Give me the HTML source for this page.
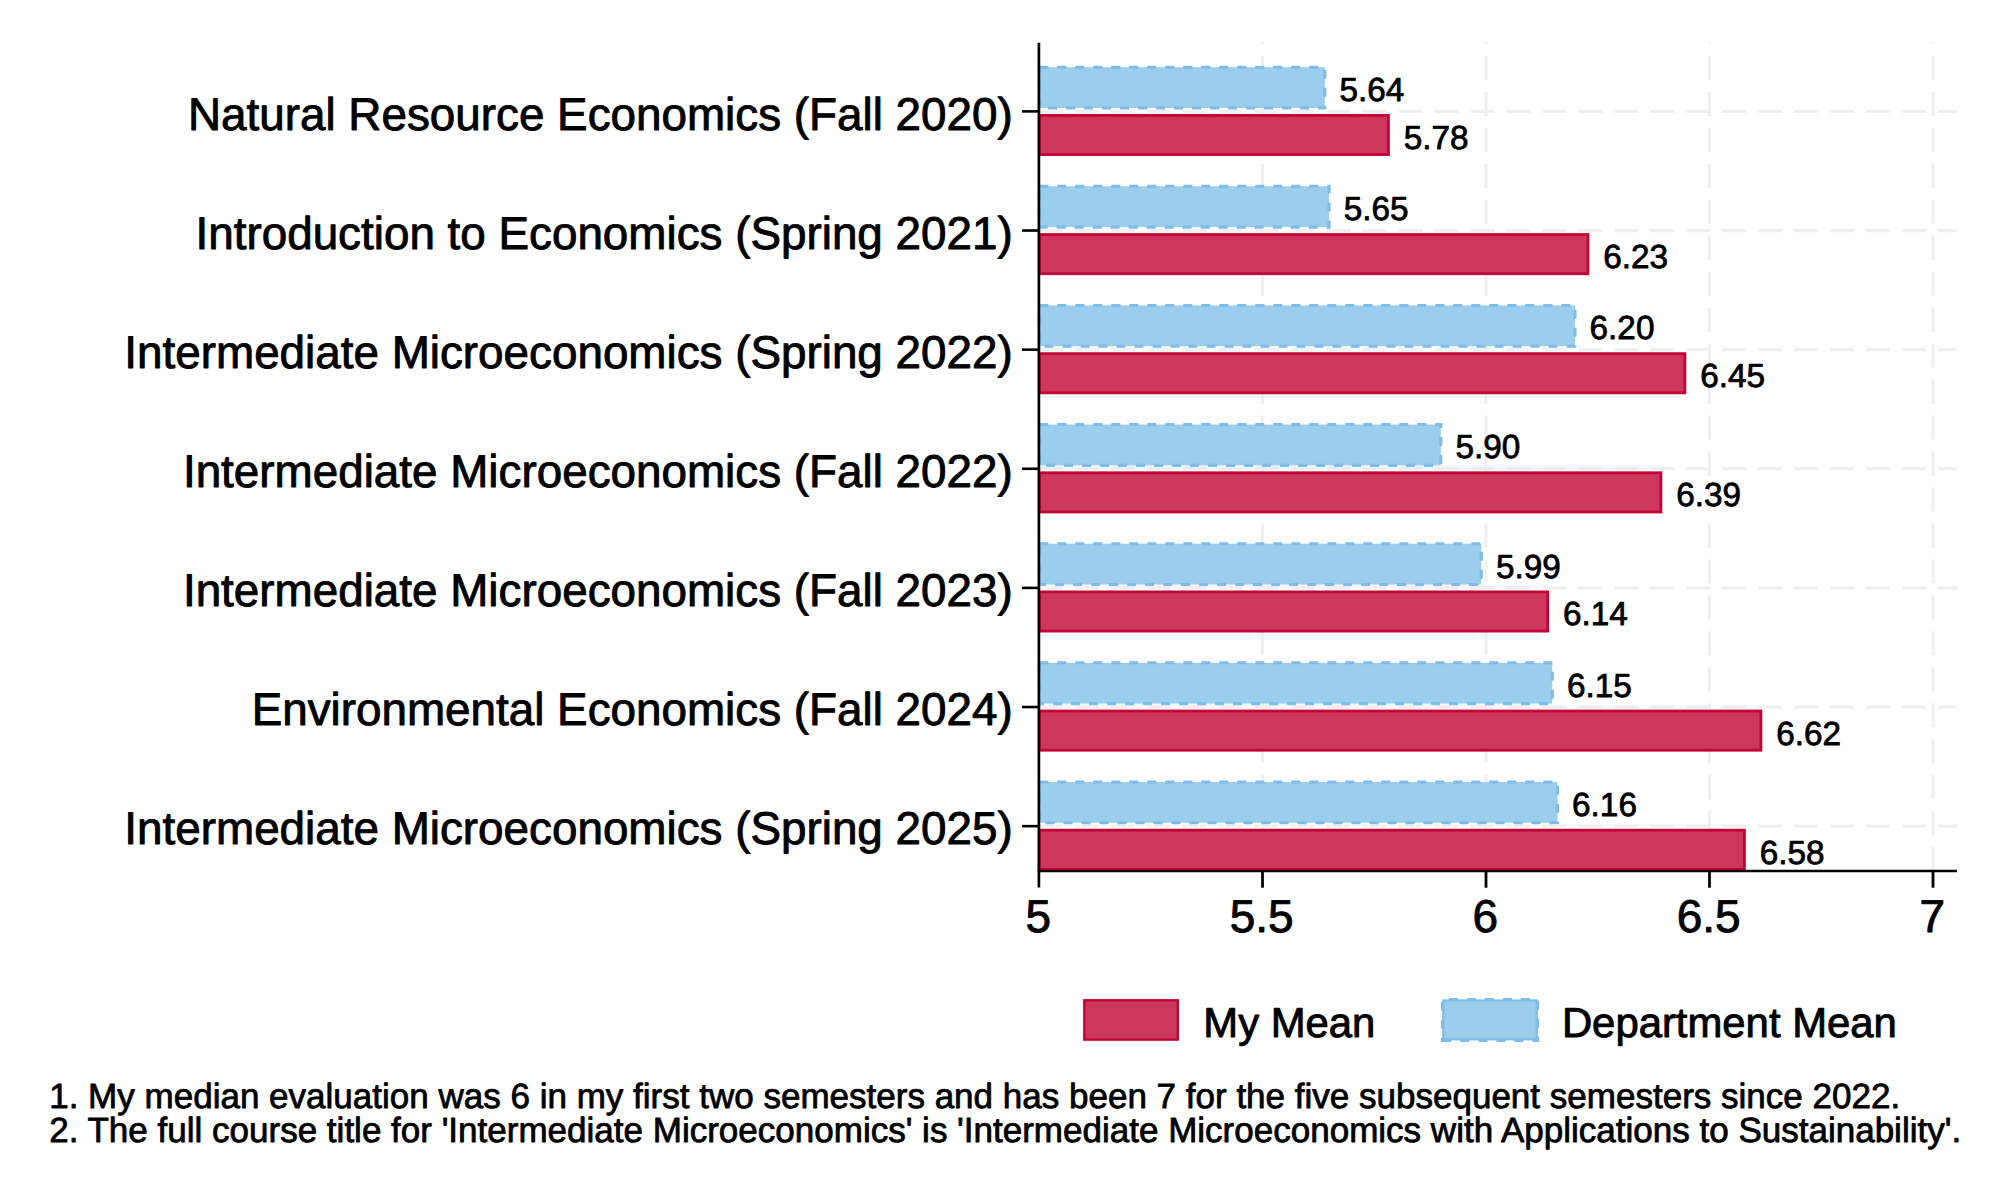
<!DOCTYPE html>
<html lang="en"><head><meta charset="utf-8"><title>Teaching evaluations</title>
<style>
html,body{margin:0;padding:0;background:#fff;}
body{width:2000px;height:1200px;overflow:hidden;}
svg{display:block;}
text{font-family:"Liberation Sans",Arial,Helvetica,sans-serif;fill:#000;stroke:#000;stroke-width:0.9px;stroke-linejoin:round;text-rendering:geometricPrecision;}
.yl{font-size:45.8px;text-anchor:end;}
.xl{font-size:46px;text-anchor:middle;}
.vl{font-size:33.3px;text-anchor:start;stroke-width:0.8px;}
.lg{font-size:41.85px;text-anchor:start;stroke-width:0.9px;}
.nt{font-size:35.03px;text-anchor:start;stroke-width:0.8px;}
</style></head><body>
<svg width="2000" height="1200" viewBox="0 0 2000 1200">
<rect x="0" y="0" width="2000" height="1200" fill="#ffffff"/>

<g stroke="#f0f0f0" stroke-width="3.2" fill="none" stroke-dasharray="23.97 11.986">
<line x1="1262.5" y1="871.00" x2="1262.5" y2="42.50"/>
<line x1="1486.0" y1="871.00" x2="1486.0" y2="42.50"/>
<line x1="1709.5" y1="871.00" x2="1709.5" y2="42.50"/>
<line x1="1933.0" y1="871.00" x2="1933.0" y2="42.50"/>
<line x1="1039.0" y1="111.40" x2="1957.0" y2="111.40"/>
<line x1="1039.0" y1="230.53" x2="1957.0" y2="230.53"/>
<line x1="1039.0" y1="349.65" x2="1957.0" y2="349.65"/>
<line x1="1039.0" y1="468.77" x2="1957.0" y2="468.77"/>
<line x1="1039.0" y1="587.90" x2="1957.0" y2="587.90"/>
<line x1="1039.0" y1="707.02" x2="1957.0" y2="707.02"/>
<line x1="1039.0" y1="826.15" x2="1957.0" y2="826.15"/>
</g>
<g>
<rect x="1039.3" y="67.20" width="285.50" height="40.80" fill="#9bcdec" stroke="#7fbce7" stroke-width="3.1" stroke-dasharray="9 9"/>
<rect x="1039.3" y="115.40" width="349.10" height="39.20" fill="#cd375d" stroke="#c10534" stroke-width="2.8"/>
<rect x="1039.3" y="186.32" width="289.80" height="40.80" fill="#9bcdec" stroke="#7fbce7" stroke-width="3.1" stroke-dasharray="9 9"/>
<rect x="1039.3" y="234.53" width="548.65" height="39.20" fill="#cd375d" stroke="#c10534" stroke-width="2.8"/>
<rect x="1039.3" y="305.45" width="535.70" height="40.80" fill="#9bcdec" stroke="#7fbce7" stroke-width="3.1" stroke-dasharray="9 9"/>
<rect x="1039.3" y="353.65" width="645.60" height="39.20" fill="#cd375d" stroke="#c10534" stroke-width="2.8"/>
<rect x="1039.3" y="424.57" width="401.50" height="40.80" fill="#9bcdec" stroke="#7fbce7" stroke-width="3.1" stroke-dasharray="9 9"/>
<rect x="1039.3" y="472.77" width="621.60" height="39.20" fill="#cd375d" stroke="#c10534" stroke-width="2.8"/>
<rect x="1039.3" y="543.70" width="442.00" height="40.80" fill="#9bcdec" stroke="#7fbce7" stroke-width="3.1" stroke-dasharray="9 9"/>
<rect x="1039.3" y="591.90" width="508.40" height="39.20" fill="#cd375d" stroke="#c10534" stroke-width="2.8"/>
<rect x="1039.3" y="662.82" width="513.00" height="40.80" fill="#9bcdec" stroke="#7fbce7" stroke-width="3.1" stroke-dasharray="9 9"/>
<rect x="1039.3" y="711.02" width="721.60" height="39.20" fill="#cd375d" stroke="#c10534" stroke-width="2.8"/>
<rect x="1039.3" y="781.95" width="518.20" height="40.80" fill="#9bcdec" stroke="#7fbce7" stroke-width="3.1" stroke-dasharray="9 9"/>
<rect x="1039.3" y="830.15" width="705.10" height="39.20" fill="#cd375d" stroke="#c10534" stroke-width="2.8"/>
</g>
<g stroke="#000" fill="none">
<line x1="1038.9" y1="42.80" x2="1038.9" y2="887.60" stroke-width="2.7"/>
<line x1="1037.7" y1="870.95" x2="1957.0" y2="870.95" stroke-width="2.4"/>
<line x1="1022.0" y1="111.40" x2="1039.0" y2="111.40" stroke-width="2.6"/>
<line x1="1022.0" y1="230.53" x2="1039.0" y2="230.53" stroke-width="2.6"/>
<line x1="1022.0" y1="349.65" x2="1039.0" y2="349.65" stroke-width="2.6"/>
<line x1="1022.0" y1="468.77" x2="1039.0" y2="468.77" stroke-width="2.6"/>
<line x1="1022.0" y1="587.90" x2="1039.0" y2="587.90" stroke-width="2.6"/>
<line x1="1022.0" y1="707.02" x2="1039.0" y2="707.02" stroke-width="2.6"/>
<line x1="1022.0" y1="826.15" x2="1039.0" y2="826.15" stroke-width="2.6"/>
<line x1="1262.5" y1="870.95" x2="1262.5" y2="887.70" stroke-width="2.8"/>
<line x1="1486.0" y1="870.95" x2="1486.0" y2="887.70" stroke-width="2.8"/>
<line x1="1709.5" y1="870.95" x2="1709.5" y2="887.70" stroke-width="2.8"/>
<line x1="1933.0" y1="870.95" x2="1933.0" y2="887.70" stroke-width="2.8"/>
</g>
<text class="yl" x="1012.7" y="129.50">Natural Resource Economics (Fall 2020)</text>
<text class="yl" x="1012.7" y="248.62">Introduction to Economics (Spring 2021)</text>
<text class="yl" x="1012.7" y="367.75">Intermediate Microeconomics (Spring 2022)</text>
<text class="yl" x="1012.7" y="486.88">Intermediate Microeconomics (Fall 2022)</text>
<text class="yl" x="1012.7" y="606.00">Intermediate Microeconomics (Fall 2023)</text>
<text class="yl" x="1012.7" y="725.12">Environmental Economics (Fall 2024)</text>
<text class="yl" x="1012.7" y="844.25">Intermediate Microeconomics (Spring 2025)</text>
<text class="xl" x="1038.2" y="931.8">5</text>
<text class="xl" x="1261.7" y="931.8">5.5</text>
<text class="xl" x="1485.2" y="931.8">6</text>
<text class="xl" x="1708.7" y="931.8">6.5</text>
<text class="xl" x="1932.2" y="931.8">7</text>
<text class="vl" x="1339.4" y="101.10">5.64</text>
<text class="vl" x="1403.7" y="148.90">5.78</text>
<text class="vl" x="1343.7" y="220.22">5.65</text>
<text class="vl" x="1603.2" y="268.02">6.23</text>
<text class="vl" x="1589.6" y="339.35">6.20</text>
<text class="vl" x="1700.2" y="387.15">6.45</text>
<text class="vl" x="1455.4" y="458.47">5.90</text>
<text class="vl" x="1676.2" y="506.27">6.39</text>
<text class="vl" x="1495.9" y="577.60">5.99</text>
<text class="vl" x="1563.0" y="625.40">6.14</text>
<text class="vl" x="1566.9" y="696.73">6.15</text>
<text class="vl" x="1776.2" y="744.52">6.62</text>
<text class="vl" x="1572.1" y="815.85">6.16</text>
<text class="vl" x="1759.7" y="863.65">6.58</text>
<rect x="1084.3" y="1000.3" width="93.5" height="39.3" fill="#cd375d" stroke="#c10534" stroke-width="2.4"/>
<text class="lg" x="1203.3" y="1037">My Mean</text>
<rect x="1443.3" y="1000.5" width="93.5" height="38.8" fill="#9bcdec" stroke="#7fbce7" stroke-width="2.2"/>
<path d="M1442.4 1040.4H1537.7V999.4H1442.4Z" fill="none" stroke="#7fbce7" stroke-width="3" stroke-dasharray="9 9"/>
<text class="lg" x="1561.9" y="1037">Department Mean</text>
<text class="nt" x="49.2" y="1107.6">1. My median evaluation was 6 in my first two semesters and has been 7 for the five subsequent semesters since 2022.</text>
<text class="nt" x="49.2" y="1141.6">2. The full course title for 'Intermediate Microeconomics' is 'Intermediate Microeconomics with Applications to Sustainability'.</text>
</svg></body></html>
